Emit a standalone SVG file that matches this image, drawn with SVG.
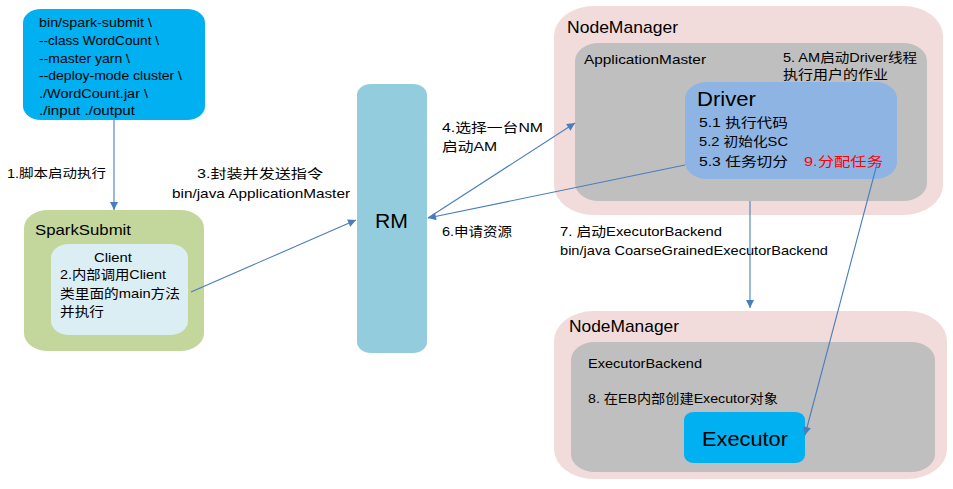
<svg xmlns="http://www.w3.org/2000/svg" width="953" height="489" viewBox="0 0 953 489">
<style>
text{font-family:"Liberation Sans","Noto Sans CJK SC",sans-serif;fill:#000;}
.s{font-size:12.5px;}
.m{font-size:13px;}
.t{font-size:14.5px;}
.h{font-size:17px;}
.b{font-size:20px;}
.c{stroke:#4A7EBB;stroke-width:1.1;fill:none;}
</style>
<defs>
<marker id="ah" viewBox="0 0 10 10" refX="10" refY="5" markerWidth="10" markerHeight="8" markerUnits="userSpaceOnUse" orient="auto">
<path d="M0,0 L10,5 L0,10 Z" fill="#4A7EBB"/>
</marker>
</defs>
<rect width="953" height="489" fill="#fff"/>

<g id="submit-cmd">
<rect x="23" y="9" width="182" height="111" rx="18" ry="14" fill="#00B0F0"/>
<text class="s" x="39" y="27" textLength="113" lengthAdjust="spacingAndGlyphs">bin/spark-submit \</text>
<text class="s" x="39" y="45" textLength="120" lengthAdjust="spacingAndGlyphs">--class WordCount \</text>
<text class="s" x="39" y="63" textLength="91" lengthAdjust="spacingAndGlyphs">--master yarn \</text>
<text class="s" x="39" y="80" textLength="143" lengthAdjust="spacingAndGlyphs">--deploy-mode cluster \</text>
<text class="s" x="39" y="98" textLength="109" lengthAdjust="spacingAndGlyphs">./WordCount.jar \</text>
<text class="s" x="39" y="115" textLength="96" lengthAdjust="spacingAndGlyphs">./input ./output</text>
</g>

<g id="sparksubmit">
<rect x="24" y="210" width="180" height="141" rx="24" ry="18" fill="#C3D69B"/>
<text class="t" x="35" y="235" textLength="96" lengthAdjust="spacingAndGlyphs">SparkSubmit</text>
</g>

<g id="client">
<rect x="51" y="244" width="137" height="91" rx="18" ry="14" fill="#DBEEF4"/>
<text class="m" x="94" y="262" textLength="38" lengthAdjust="spacingAndGlyphs">Client</text>
<text class="m" x="60" y="279" textLength="106" lengthAdjust="spacingAndGlyphs">2.内部调用Client</text>
<text class="m" x="60" y="298" textLength="120" lengthAdjust="spacingAndGlyphs">类里面的main方法</text>
<text class="m" x="60" y="316" textLength="44" lengthAdjust="spacingAndGlyphs">并执行</text>
</g>

<g id="rm">
<rect x="357" y="84" width="70" height="269" rx="14" ry="11" fill="#93CDDD"/>
<text class="b" x="375" y="228" textLength="33" lengthAdjust="spacingAndGlyphs">RM</text>
</g>

<g id="nodemanager1">
<rect x="554" y="6" width="389" height="209" rx="40" ry="30" fill="#F2DCDB"/>
<text class="h" x="567" y="33" textLength="111" lengthAdjust="spacingAndGlyphs">NodeManager</text>
</g>

<g id="applicationmaster">
<rect x="575" y="43" width="352" height="158" rx="24" ry="18" fill="#BFBFBF"/>
<text class="m" x="584" y="64" textLength="122" lengthAdjust="spacingAndGlyphs">ApplicationMaster</text>
<text class="m" x="783" y="62" textLength="134" lengthAdjust="spacingAndGlyphs">5. AM启动Driver线程</text>
<text class="m" x="783" y="79" textLength="105" lengthAdjust="spacingAndGlyphs">执行用户的作业</text>
</g>

<g id="driver">
<rect x="685" y="82" width="212" height="97" rx="22" ry="17" fill="#8EB4E3"/>
<text class="b" x="697" y="106" textLength="59" lengthAdjust="spacingAndGlyphs">Driver</text>
<text class="m" x="699" y="127" textLength="89" lengthAdjust="spacingAndGlyphs">5.1 执行代码</text>
<text class="m" x="699" y="146" textLength="89" lengthAdjust="spacingAndGlyphs">5.2 初始化SC</text>
<text class="m" x="699" y="166" textLength="89" lengthAdjust="spacingAndGlyphs">5.3 任务切分</text>
<text class="m" x="804" y="166" textLength="79" lengthAdjust="spacingAndGlyphs" style="fill:#FF0000">9.分配任务</text>
</g>

<g id="nodemanager2">
<rect x="554" y="311" width="393" height="168" rx="40" ry="30" fill="#F2DCDB"/>
<text class="h" x="569" y="332" textLength="110" lengthAdjust="spacingAndGlyphs">NodeManager</text>
</g>

<g id="executorbackend">
<rect x="571" y="342" width="364" height="130" rx="24" ry="18" fill="#BFBFBF"/>
<text class="m" x="588" y="368" textLength="114" lengthAdjust="spacingAndGlyphs">ExecutorBackend</text>
<text class="m" x="588" y="403" textLength="190" lengthAdjust="spacingAndGlyphs">8. 在EB内部创建Executor对象</text>
</g>

<g id="executor">
<rect x="684" y="412" width="121" height="51" rx="10" ry="8" fill="#00B0F0"/>
<text class="b" x="702" y="446" textLength="86" lengthAdjust="spacingAndGlyphs">Executor</text>
</g>

<g id="connectors">
<line class="c" x1="114" y1="120" x2="114" y2="210" marker-end="url(#ah)"/>
<line class="c" x1="191" y1="292" x2="356" y2="220" marker-end="url(#ah)"/>
<line class="c" x1="428" y1="218" x2="575" y2="123" marker-end="url(#ah)"/>
<line class="c" x1="685" y1="165" x2="428" y2="218" marker-end="url(#ah)"/>
<line class="c" x1="750" y1="201" x2="750" y2="308" marker-end="url(#ah)"/>
<line class="c" x1="877" y1="164" x2="805" y2="435" marker-end="url(#ah)"/>
</g>

<g id="labels">
<text class="s" x="7" y="178" textLength="99" lengthAdjust="spacingAndGlyphs">1.脚本启动执行</text>
<text class="m" x="197" y="178" textLength="126" lengthAdjust="spacingAndGlyphs">3.封装并发送指令</text>
<text class="m" x="172" y="198" textLength="178" lengthAdjust="spacingAndGlyphs">bin/java ApplicationMaster</text>
<text class="m" x="442" y="132" textLength="101" lengthAdjust="spacingAndGlyphs">4.选择一台NM</text>
<text class="m" x="442" y="151" textLength="55" lengthAdjust="spacingAndGlyphs">启动AM</text>
<text class="m" x="442" y="236" textLength="70" lengthAdjust="spacingAndGlyphs">6.申请资源</text>
<text class="m" x="560" y="236" textLength="162" lengthAdjust="spacingAndGlyphs">7. 启动ExecutorBackend</text>
<text class="m" x="560" y="255" textLength="268" lengthAdjust="spacingAndGlyphs">bin/java CoarseGrainedExecutorBackend</text>
</g>
</svg>
